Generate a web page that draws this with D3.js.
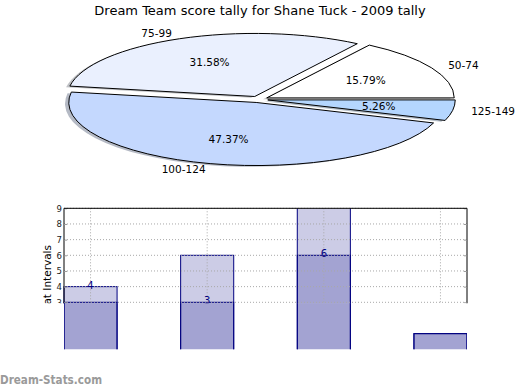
<!DOCTYPE html>
<html>
<head>
<meta charset="utf-8">
<script src="https://cdn.jsdelivr.net/npm/d3@7"></script>
<style>
  body { margin: 0; background: #fff; }
  svg { display: block; font-family: "DejaVu Sans", sans-serif; }
</style>
</head>
<body>
<svg id="chart" width="520" height="390"></svg>
<script>
// pie data
var pieLabels = ["50-74", "75-99", "100-124", "125-149"];
var pieCounts = [3, 6, 9, 1];
var pieColors = ["#ffffff", "#eaf0fe", "#c4d8fe", "#b4d6fe"];
var explode = 0.05;

// bar data
var barCats = ["a", "b", "c", "d"];
var seriesBack = [4, 6, 11, 1];
var seriesFront = [3, 3, 6, 1];
var barLabels = [{i: 0, v: 4}, {i: 1, v: 3}, {i: 2, v: 6}];
var yTicks = [3, 4, 5, 6, 7, 8, 9];

var svg = d3.select("#chart");

svg.append("text")
  .attr("x", 260).attr("y", 14.5)
  .attr("text-anchor", "middle")
  .style("font-size", "13px")
  .text("Dream Team score tally for Shane Tuck - 2009 tally");

//-------------------------------
// pie (stretched ellipse, all slices exploded)
var px = d3.scaleLinear().domain([-1, 1]).range([71, 446]);
var py = d3.scaleLinear().domain([-1, 1]).range([162.5, 36.3]);
var sx = (px(1) - px(-1)) / 2, sy = (py(-1) - py(1)) / 2;

var pie = d3.pie().sort(null)
  .startAngle(Math.PI / 2).endAngle(Math.PI / 2 - 2 * Math.PI);
var arcs = pie(pieCounts);
var arc = d3.arc().innerRadius(0).outerRadius(1);
var total = d3.sum(pieCounts);

function mid(d) { return (d.startAngle + d.endAngle) / 2; }
function ux(d, r) { return Math.sin(mid(d)) * r; }
function uy(d, r) { return Math.cos(mid(d)) * r; }

var pieG = svg.append("g");

// shadows first, under every wedge
pieG.selectAll(".shadow").data(arcs).enter().append("path")
  .attr("class", "shadow")
  .attr("d", arc)
  .attr("transform", function(d) {
    return "translate(" + px(ux(d, explode) - 0.02) + "," + py(uy(d, explode) - 0.02) + ") scale(" + sx + "," + sy + ")";
  })
  .style("fill", function(d, i) { return d3.rgb(pieColors[i]).darker(1.7); })
  .style("opacity", 0.5);

pieG.selectAll(".wedge").data(arcs).enter().append("path")
  .attr("class", "wedge")
  .attr("d", arc)
  .attr("transform", function(d) {
    return "translate(" + px(ux(d, explode)) + "," + py(uy(d, explode)) + ") scale(" + sx + "," + sy + ")";
  })
  .attr("vector-effect", "non-scaling-stroke")
  .style("fill", function(d, i) { return pieColors[i]; })
  .style("stroke", "#000")
  .style("stroke-width", 1);

pieG.selectAll(".plabel").data(arcs).enter().append("text")
  .attr("class", "plabel")
  .attr("x", function(d) { return px(ux(d, explode + 1.1)); })
  .attr("y", function(d) { return py(uy(d, explode + 1.1)); })
  .attr("dy", "0.35em")
  .attr("text-anchor", function(d) { return ux(d, 1) > 0 ? "start" : "end"; })
  .style("font-size", "10.5px")
  .text(function(d, i) { return pieLabels[i]; });

pieG.selectAll(".pct").data(arcs).enter().append("text")
  .attr("class", "pct")
  .attr("x", function(d) { return px(ux(d, explode + 0.6)); })
  .attr("y", function(d) { return py(uy(d, explode + 0.6)); })
  .attr("dy", "0.35em")
  .attr("text-anchor", "middle")
  .style("font-size", "10.5px")
  .text(function(d) { return (d.value / total * 100).toFixed(2) + "%"; });

//-------------------------------
// bars (upper part clipped, lower part shows bars only)
var x = d3.scaleBand().domain(barCats).range([64, 467]).paddingInner(0.545).paddingOuter(0);
var y = d3.scaleLinear().domain([0, 9]).range([349.3, 208.3]);

var defs = svg.append("defs");
defs.append("clipPath").attr("id", "clipTop").append("rect")
  .attr("x", 0).attr("y", y(9) - 8).attr("width", 520).attr("height", y(3) - y(9) + 9);
defs.append("clipPath").attr("id", "clipBottom").append("rect")
  .attr("x", x.range()[0]).attr("y", y(3) + 1).attr("width", x.range()[1] - x.range()[0])
  .attr("height", y(0) - y(3) - 1);
defs.append("clipPath").attr("id", "clipPlot").append("rect")
  .attr("x", 0).attr("y", y(9)).attr("width", 520).attr("height", y(0) - y(9) + 3);

function drawBars(g) {
  [seriesBack, seriesFront].forEach(function(s) {
    g.append("g").selectAll("rect").data(s).enter().append("rect")
      .attr("x", function(d, i) { return x(barCats[i]); })
      .attr("y", function(d) { return y(d); })
      .attr("width", x.bandwidth())
      .attr("height", function(d) { return y(0) - y(d) + 2; })
      .style("fill", "rgba(0,0,128,0.2)")
      .style("stroke", "#000080")
      .style("stroke-width", 1);
  });
}

var upper = svg.append("g").attr("clip-path", "url(#clipTop)");
var upperBars = upper.append("g").attr("clip-path", "url(#clipPlot)");
drawBars(upperBars);

// grid
upper.append("g").selectAll("line").data(yTicks).enter().append("line")
  .attr("x1", 64).attr("x2", 467)
  .attr("y1", function(d) { return y(d); }).attr("y2", function(d) { return y(d); })
  .style("stroke", "#a8a8a8").style("stroke-dasharray", "1,2");
upper.append("g").selectAll("line").data(barCats).enter().append("line")
  .attr("x1", function(d) { return x(d) + x.bandwidth() / 2; })
  .attr("x2", function(d) { return x(d) + x.bandwidth() / 2; })
  .attr("y1", y(9)).attr("y2", y(0))
  .style("stroke", "#a8a8a8").style("stroke-dasharray", "1,2");

// axes
var yAxisL = d3.axisLeft(y).tickValues(yTicks).tickSize(-3).tickPadding(2);
var yAxisR = d3.axisRight(y).tickValues(yTicks).tickSize(-3).tickFormat("");
var gl = upper.append("g").attr("transform", "translate(64,0)").call(yAxisL);
var gr = upper.append("g").attr("transform", "translate(467,0)").call(yAxisR);
[gl, gr].forEach(function(g) {
  g.select(".domain").attr("d", "M0," + y(9) + "V" + y(0)).style("stroke", "#000");
  g.selectAll(".tick line").style("stroke", "#999");
});
gl.selectAll(".tick text").style("font-size", "8.5px").style("font-family", "DejaVu Sans").attr("fill", "#222");
upper.append("line").attr("x1", 64).attr("x2", 467).attr("y1", y(9)).attr("y2", y(9))
  .style("stroke", "#000");

upper.selectAll(".blabel").data(barLabels).enter().append("text")
  .attr("class", "blabel")
  .attr("x", function(d) { return x(barCats[d.i]) + x.bandwidth() / 2; })
  .attr("y", function(d) { return y(d.v) + 2; })
  .attr("text-anchor", "middle")
  .style("font-size", "10px")
  .style("fill", "#000080")
  .text(function(d) { return d.v; });

upper.append("text")
  .attr("transform", "translate(50.5,245) rotate(-90)")
  .attr("text-anchor", "end")
  .style("font-size", "10.5px")
  .text("Scores at Intervals");

var lower = svg.append("g").attr("clip-path", "url(#clipBottom)");
drawBars(lower);

svg.append("text")
  .attr("x", 0).attr("y", 384)
  .attr("textLength", 102)
  .attr("lengthAdjust", "spacingAndGlyphs")
  .style("font-size", "12px")
  .style("font-weight", "bold")
  .style("fill", "#9a9a9a")
  .text("Dream-Stats.com");
</script>
</body>
</html>
